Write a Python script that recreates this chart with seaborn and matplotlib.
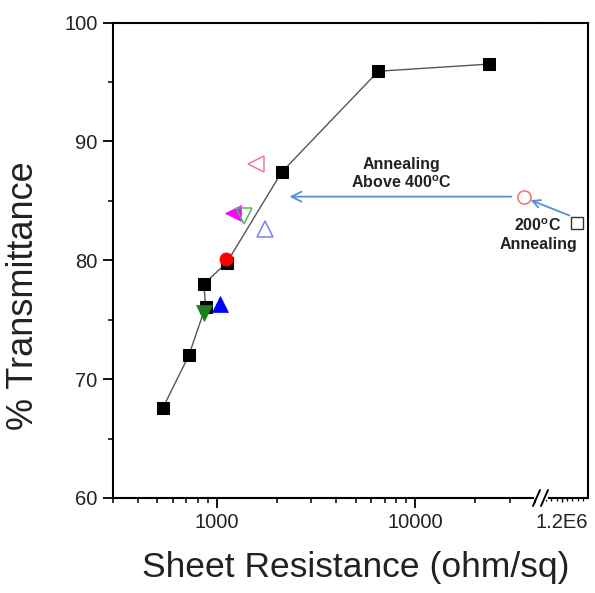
import numpy as np
import matplotlib
matplotlib.use('Agg')
import matplotlib.pyplot as plt
from matplotlib.lines import Line2D
from matplotlib.ticker import FixedLocator, NullFormatter, LogLocator
import seaborn as sns

# black reference series (connected line)
sq_x = [536, 723, 878, 861, 1123, 2120, 6510, 23550]
sq_y = [67.6, 72.0, 76.1, 78.0, 79.8, 87.4, 95.9, 96.5]

# filled markers
filled_x = [1110, 1035, 861, 1203]
filled_y = [80.1, 76.3, 75.6, 84.0]
filled_m = ['o', '^', 'v', '<']
filled_c = ['#ff0000', '#0000ff', '#1b7f1b', '#ff00ff']

# hollow markers
hollow_x = [1367, 1742, 1572, 35300]
hollow_y = [83.7, 82.6, 88.1, 85.35]
hollow_m = ['v', '^', '<', 'o']
hollow_c = ['#4cbf5a', '#7f7ff0', '#f078a0', '#f07070']

# point beyond the axis break
far_x = [1.345e6]
far_y = [83.1]

W, H = 595, 593


def px(x, y):
    return x / W, 1 - y / H


sns.set_style('ticks')
plt.rcParams['font.family'] = ['Liberation Sans', 'DejaVu Sans']

fig = plt.figure(figsize=(5.95, 5.93), dpi=100)
left, right, bottom, top, brk = 113, 588, 498, 22.5, 541
ax1 = fig.add_axes([left / W, 1 - bottom / H, (brk - left) / W, (bottom - top) / H])
ax2 = fig.add_axes([brk / W, 1 - bottom / H, (right - brk) / W, (bottom - top) / H])

sns.lineplot(x=sq_x, y=sq_y, sort=False, estimator=None, color='#555555', lw=1,
             marker='s', markersize=8.8, markerfacecolor='black', markeredgecolor='black',
             ax=ax1, zorder=3)

for x, y, m, c in zip(filled_x, filled_y, filled_m, filled_c):
    size = 9.5 if m == 'o' else 11.5
    sns.scatterplot(x=[x], y=[y], marker=m, color=c, edgecolor=c, s=size ** 2,
                    linewidth=0.5, ax=ax1, zorder=4)

for x, y, m, c in zip(hollow_x, hollow_y, hollow_m, hollow_c):
    size = 9.5 if m == 'o' else 11.5
    ax1.plot([x], [y], marker=m, ms=size, mfc='none', mec=c, mew=1.1, ls='', zorder=5)

ax2.plot(far_x, far_y, marker='s', ms=8.5, mfc='none', mec='#333333', mew=1.0, ls='')

# axis 1: log scale
ax1.set_xscale('log')
ax1.set_xlim(300, 43000)
ax1.set_ylim(60, 100)
ax1.set_xticks([1000, 10000])
ax1.set_xticklabels(['1000', '10000'])
ax1.xaxis.set_minor_locator(LogLocator(base=10, subs=np.arange(2, 10)))
ax1.xaxis.set_minor_formatter(NullFormatter())
ax1.set_yticks([60, 70, 80, 90, 100])
ax1.yaxis.set_minor_locator(FixedLocator([65, 75, 85, 95]))
ax1.spines['right'].set_visible(False)

# axis 2: the segment after the break
ax2.set_xlim(1.0e6, 1.45e6)
ax2.set_ylim(60, 100)
ax2.set_xticks([1.2e6])
ax2.set_xticklabels(['1.2E6'])
ax2.xaxis.set_minor_locator(FixedLocator(np.arange(1.05e6, 1.41e6, 0.05e6)))
ax2.set_yticks([])
ax2.spines['left'].set_visible(False)

for ax in (ax1, ax2):
    for s in ax.spines.values():
        s.set_linewidth(1.5)
        s.set_color('black')
    ax.tick_params(which='major', direction='out', length=7, width=1.3,
                   labelsize=14.5, pad=4, colors='black', labelcolor='#222222')
    ax.tick_params(which='minor', direction='out', length=3.6, width=1.1, colors='black')
    ax.patch.set_alpha(0)
ax2.tick_params(axis='x', which='major', length=3, width=1)
ax2.tick_params(axis='x', which='minor', length=2.5, width=0.9)
ax2.tick_params(axis='x', which='major', pad=7.5)

# break marks on the bottom axis
fig.add_artist(Line2D([px(536, 0)[0], px(546, 0)[0]], [px(0, bottom)[1]] * 2,
                      transform=fig.transFigure, color='white', lw=3, zorder=10))
for x0 in (533, 541):
    a = px(x0, 506)
    b = px(x0 + 7, 490)
    fig.add_artist(Line2D([a[0], b[0]], [a[1], b[1]], transform=fig.transFigure,
                          color='black', lw=1.4, zorder=11))

# arrows
arrow_c = '#5b8fd0'
ax1.annotate('', xy=(2250, 85.35), xytext=(31500, 85.35),
             arrowprops=dict(arrowstyle='->', color=arrow_c, lw=1.3, mutation_scale=18))
ax1.annotate('', xy=(37500, 85.1), xycoords=ax1.transData,
             xytext=(1.32e6, 83.6), textcoords=ax2.transData,
             arrowprops=dict(arrowstyle='->', color=arrow_c, lw=1.3, mutation_scale=14,
                             shrinkA=4, shrinkB=1))

fig.text(*px(401, 174), 'Annealing\nAbove 400$^{\\mathregular{o}}$C', ha='center', va='center',
         fontsize=11.5, fontweight='bold', linespacing=1.25, color='#222222')
fig.text(*px(538, 235), '200$^{\\mathregular{o}}$C\nAnnealing', ha='center', va='center',
         fontsize=11.5, fontweight='bold', linespacing=1.25, color='#222222')

fig.text(*px(356, 567), 'Sheet Resistance (ohm/sq)', ha='center', va='center',
         fontsize=25.5, color='#222222')
fig.text(*px(24, 296), '% Transmittance', ha='center', va='center', fontsize=26,
         rotation=90, color='#222222')

fig.savefig('out.png', dpi=100)
